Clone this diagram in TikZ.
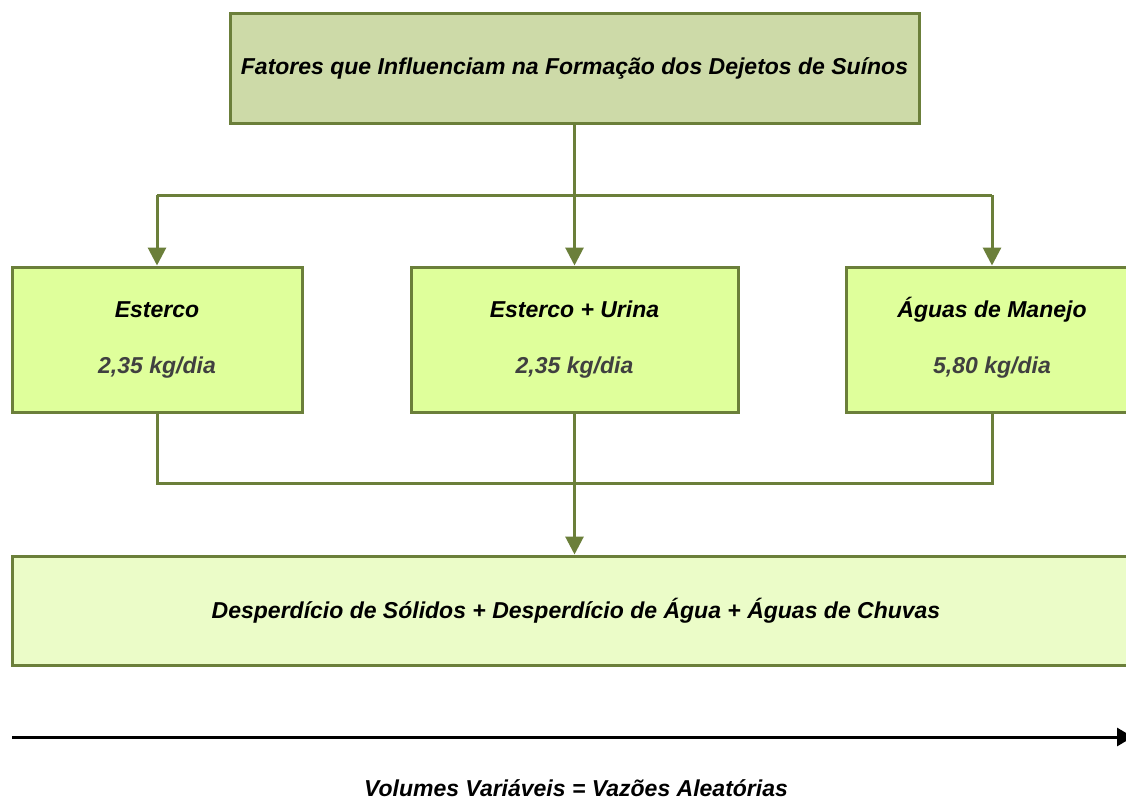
\documentclass[tikz,border=0pt]{standalone}
\usepackage{fontspec}
\setmainfont{Liberation Sans}
\usepackage{tikz}
\usepackage{xcolor}
\usetikzlibrary{arrows.meta}

\definecolor{oliveline}{RGB}{107,127,58}
\definecolor{topfill}{RGB}{205,218,168}
\definecolor{midfill}{RGB}{223,255,155}
\definecolor{lowfill}{RGB}{235,252,200}
\definecolor{valgray}{RGB}{64,64,64}

\tikzset{
  boxbase/.style={draw=oliveline, line width=3pt, align=center, inner sep=0pt,
    font=\fontsize{23}{27}\selectfont\bfseries\itshape},
  topbox/.style={boxbase, fill=topfill, minimum width=689pt, minimum height=109pt},
  midbox/.style={boxbase, fill=midfill, minimum height=145pt},
  lowbox/.style={boxbase, fill=lowfill, minimum width=1128pt, minimum height=109pt},
  link/.style={draw=oliveline, line width=3pt},
  linkarrow/.style={link, -{Triangle[width=18pt,length=18pt]}},
  axisarrow/.style={draw=black, line width=3pt, -{Triangle[width=18pt,length=16pt]}}
}

\begin{document}
\begin{tikzpicture}[x=1pt,y=-1pt]
\clip (0,0) rectangle (1126,800);
\fill[white] (0,0) rectangle (1126,800);

\node[topbox] (fatores) at (574.5,68.5) {Fatores que Influenciam na Formação dos Dejetos de Suínos};

\node[midbox, minimum width=290pt] (esterco) at (157,339.5) {Esterco\\[29pt]\textcolor{valgray}{2,35 kg/dia}};
\node[midbox, minimum width=327pt] (urina) at (574.5,339.5) {Esterco + Urina\\[29pt]\textcolor{valgray}{2,35 kg/dia}};
\node[midbox, minimum width=292pt] (manejo) at (992,339.5) {\smash{Á}guas de Manejo\\[29pt]\textcolor{valgray}{5,80 kg/dia}};

\node[lowbox] (desperdicio) at (576,610.5) {Desperdício de Sólidos + Desperdício de Água + Águas de Chuvas};

\coordinate (split) at (574.5,195);
\coordinate (merge) at (574.5,483);

\draw[link] (split -| esterco.north) -- (split -| manejo.north);
\draw[linkarrow] (fatores.south) -- (urina.north);
\draw[linkarrow] (split -| esterco.north) -- (esterco.north);
\draw[linkarrow] (split -| manejo.north) -- (manejo.north);

\draw[link] (esterco.south) -- (merge -| esterco.south) -- (merge -| manejo.south) -- (manejo.south);
\draw[linkarrow] (urina.south) -- (desperdicio.north -| urina.south);

\coordinate (axisL) at (12,737);
\coordinate (axisR) at (1133,737);
\draw[axisarrow] (axisL) -- (axisR);

\node[font=\fontsize{23}{27}\selectfont\bfseries\itshape, inner sep=0pt, anchor=base] (volumes) at (576,796) {Volumes Variáveis = Vazões Aleatórias};

\end{tikzpicture}
\end{document}
